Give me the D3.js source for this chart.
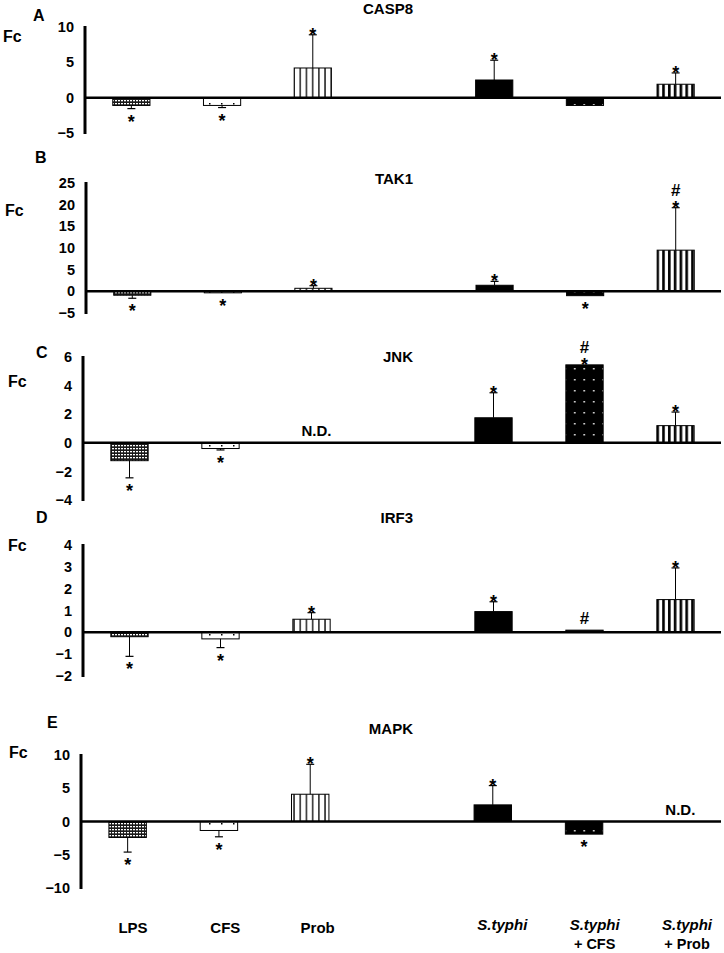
<!DOCTYPE html>
<html><head><meta charset="utf-8">
<script src="https://cdn.jsdelivr.net/npm/d3@7"></script>
<style>
body{margin:0;background:#fff;}
svg{display:block;font-family:"Liberation Sans",Arial,sans-serif;font-weight:bold;}
</style></head>
<body>
<svg id="chart" width="724" height="953"></svg>
<script>
// ---- data ----
const slots = ["LPS","CFS","Prob","gap","S.typhi","S.typhi + CFS","S.typhi + Prob"];
const categories = ["LPS","CFS","Prob","S.typhi","S.typhi + CFS","S.typhi + Prob"];
const genes = ["CASP8","TAK1","JNK","IRF3","MAPK"];
const letters = ["A","B","C","D","E"];

const casp8 = [-1.1, -1.1, 4.2, 2.5, -1.1, 1.9];
const casp8Err = [0.45, 0.3, 4.7, 2.8, 0, 1.6];
const casp8Star = [1,1,1,1,0,1];
const casp8Hash = [0,0,0,0,0,0];

const tak1 = [-0.9, -0.3, 0.7, 1.4, -1.0, 9.5];
const tak1Err = [0.7, 0, 0.6, 0.9, 0, 9.8];
const tak1Star = [1,1,1,1,1,1];
const tak1Hash = [0,0,0,0,0,1];

const jnk = [-1.25, -0.4, null, 1.75, 5.45, 1.2];
const jnkErr = [1.2, 0.1, 0, 1.75, 0, 0.95];
const jnkStar = [1,1,0,1,1,1];
const jnkHash = [0,0,0,0,1,0];

const irf3 = [-0.2, -0.3, 0.6, 0.95, 0.1, 1.5];
const irf3Err = [0.9, 0.4, 0.3, 0.45, 0, 1.45];
const irf3Star = [1,1,1,1,0,1];
const irf3Hash = [0,0,0,0,1,0];

const mapk = [-2.4, -1.35, 4.1, 2.5, -1.9, null];
const mapkErr = [2.2, 0.95, 4.5, 2.9, 0, 0];
const mapkStar = [1,1,1,1,1,0];
const mapkHash = [0,0,0,0,0,0];

const casp8Ticks = [10,5,0,-5];
const tak1Ticks = [25,20,15,10,5,0,-5];
const jnkTicks = [6,4,2,0,-2,-4];
const irf3Ticks = [4,3,2,1,0,-1,-2];
const mapkTicks = [10,5,0,-5,-10];

// ---- layout ----
const panels = [
  {v:casp8, e:casp8Err, s:casp8Star, h:casp8Hash, ticks:casp8Ticks, dom:[-5,10], px:[133,27], ax:85, letter:[33,21], fc:[3,42], title:[413,14]},
  {v:tak1, e:tak1Err, s:tak1Star, h:tak1Hash, ticks:tak1Ticks, dom:[-5,25], px:[313,183], ax:86, letter:[35,163], fc:[5,216], title:[413,184]},
  {v:jnk, e:jnkErr, s:jnkStar, h:jnkHash, ticks:jnkTicks, dom:[-4,6], px:[500,357], ax:83, letter:[36,358], fc:[8,387], title:[413,362]},
  {v:irf3, e:irf3Err, s:irf3Star, h:irf3Hash, ticks:irf3Ticks, dom:[-2,4], px:[676,545], ax:83, letter:[36,523], fc:[8,551], title:[413,523]},
  {v:mapk, e:mapkErr, s:mapkStar, h:mapkHash, ticks:mapkTicks, dom:[-10,10], px:[888,755], ax:81, letter:[47,728], fc:[9,758], title:[413,734]}
];

const svg = d3.select("#chart");
const defs = svg.append("defs");

// patterns
function pat(id,w,h,bg,draw){
  const p = defs.append("pattern").attr("id",id).attr("patternUnits","userSpaceOnUse").attr("width",w).attr("height",h);
  p.append("rect").attr("width",w).attr("height",h).attr("fill",bg);
  draw(p);
}
pat("pLPS",3,3,"#1a1a1a",p=>p.append("rect").attr("x",1).attr("y",1).attr("width",2).attr("height",1.3).attr("fill","#fff"));
pat("pCFS",12,9,"#fff",p=>p.append("rect").attr("x",5).attr("y",4).attr("width",1.5).attr("height",1.5).attr("fill","#000"));
pat("pProb",6.2,10,"#fff",p=>p.append("rect").attr("x",2).attr("y",0).attr("width",1.3).attr("height",10).attr("fill","#000"));
pat("pTyphiCFS",9.5,11,"#000",p=>p.append("rect").attr("x",4).attr("y",5).attr("width",1.5).attr("height",1.5).attr("fill","#fff"));
pat("pTyphiProb",5.8,10,"#fff",p=>p.append("rect").attr("x",1).attr("y",0).attr("width",2.6).attr("height",10).attr("fill","#000"));
const fills = ["url(#pLPS)","url(#pCFS)","url(#pProb)","#000","url(#pTyphiCFS)","url(#pTyphiProb)"];

panels.forEach((P,pi)=>{
  const g = svg.append("g");
  const y = d3.scaleLinear().domain(P.dom).range(P.px);
  const x = d3.scaleBand().domain(slots).range([P.ax+1, 721]).paddingInner(0.59).paddingOuter(0.295);
  const y0 = y(0);

  // y axis labels (no tick marks)
  const axis = d3.axisLeft(y).tickValues(P.ticks).tickSize(0).tickPadding(11).tickFormat(d3.format("d"));
  const ag = g.append("g").attr("transform",`translate(${P.ax},0)`).call(axis);
  ag.select(".domain").remove();
  ag.selectAll("text").attr("font-size",14.5).attr("font-weight","bold").attr("fill","#000")
    .attr("font-family","'Liberation Sans',Arial,sans-serif");
  g.append("line").attr("x1",P.ax).attr("x2",P.ax).attr("y1",y(P.dom[1])-1).attr("y2",y(P.dom[0])+1)
    .attr("stroke","#000").attr("stroke-width",3);

  // bars
  categories.forEach((c,i)=>{
    const v = P.v[i];
    const bx = x(c), bw = x.bandwidth(), cx = bx + bw/2;
    if(v===null){
      g.append("text").attr("x",cx+5).attr("y",y0-7).attr("text-anchor","middle")
        .attr("font-size",15).text("N.D.");
      return;
    }
    const top = Math.min(y(v),y0), hgt = Math.max(Math.abs(y(v)-y0),1.5);
    g.append("rect").attr("x",bx).attr("y",top).attr("width",bw).attr("height",hgt)
      .attr("fill",fills[i]).attr("stroke","#000").attr("stroke-width",1);
    const err = P.e[i];
    const sign = v>=0?1:-1;
    let endY = y(v);
    if(err>0){
      endY = y(v+sign*err);
      g.append("line").attr("x1",cx).attr("x2",cx).attr("y1",y(v)).attr("y2",endY).attr("stroke","#000").attr("stroke-width",1);
      g.append("line").attr("x1",cx-4).attr("x2",cx+4).attr("y1",endY).attr("y2",endY).attr("stroke","#000").attr("stroke-width",1.2);
    }
    // significance marks: one text element, '#' stacked above '*'
    if(P.s[i] || P.h[i]){
      const t = g.append("text").attr("text-anchor","middle");
      if(P.s[i]){
        const starC = sign>0 ? endY-4 : endY+9;
        if(P.h[i]){
          t.append("tspan").attr("x",cx).attr("y",starC-14+6).attr("font-size",17).text("#");
        }
        t.append("tspan").attr("x",cx).attr("y",starC+10).attr("font-size",18).text("*");
      } else {
        t.append("tspan").attr("x",cx).attr("y",endY-12+6).attr("font-size",17).text("#");
      }
    }
  });

  // zero line
  g.append("line").attr("x1",P.ax).attr("x2",721).attr("y1",y0).attr("y2",y0).attr("stroke","#000").attr("stroke-width",2.5);

  // labels
  g.append("text").attr("x",P.letter[0]).attr("y",P.letter[1]).attr("font-size",16).text(letters[pi]);
  g.append("text").attr("x",P.fc[0]).attr("y",P.fc[1]).attr("font-size",16).text("Fc");
  g.append("text").attr("x",P.title[0]).attr("y",P.title[1]).attr("text-anchor","end").attr("font-size",15).text(genes[pi]);
});

// x category labels
const xl = d3.scalePoint().domain(slots).range([133,687]);
categories.forEach(c=>{
  const t = svg.append("text").attr("text-anchor","middle").attr("font-size",15);
  const cx = xl(c);
  if(c.startsWith("S.typhi")){
    t.attr("x",cx).attr("y",930);
    t.append("tspan").attr("font-style","italic").text("S.typhi");
    const rest = c.replace("S.typhi","").trim();
    if(rest){
      svg.append("text").attr("text-anchor","middle").attr("font-size",14.5).attr("x",cx).attr("y",949).text(rest);
    }
  } else {
    t.attr("x",cx).attr("y",933).text(c);
  }
});
</script>
</body></html>
